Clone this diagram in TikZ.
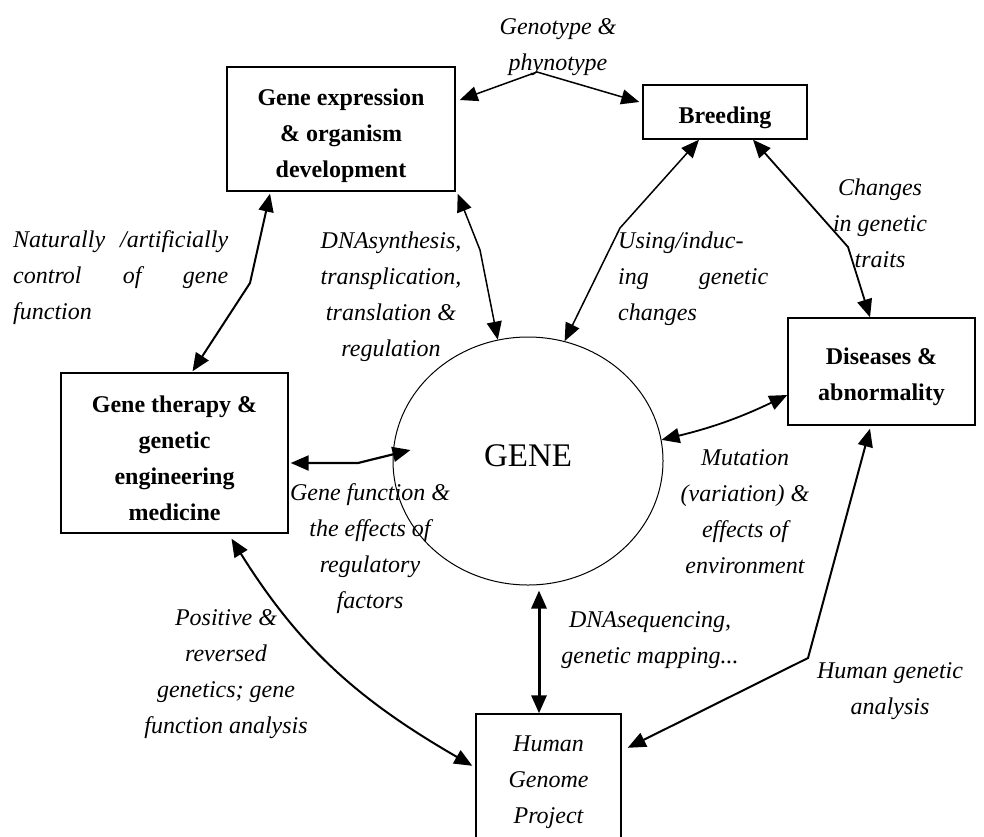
\documentclass[tikz,border=0pt]{standalone}
\usepackage{fontspec}
\setmainfont{Liberation Serif}
\usetikzlibrary{arrows.meta,shapes.geometric}
% rows of a label; the node's base is the first row's baseline
\newcommand\cellrows[2][c]{\begin{tabular}[t]{@{}#1@{}}#2\end{tabular}}
% rows inside a box, moved down by #1 without changing the box size
\newcommand\boxrows[2]{\raisebox{#1}[\height][\depth]{\begin{tabular}{@{}c@{}}#2\end{tabular}}}
\begin{document}
\begin{tikzpicture}[x=1pt,y=-1pt,
  >={Triangle[length=18pt,width=15pt]},
  box/.style={draw, line width=1.4pt, inner sep=0pt,
    font=\fontsize{24}{36}\selectfont\bfseries},
  lab/.style={inner sep=0pt, font=\fontsize{24}{36}\selectfont\itshape},
  conn/.style={<->, line width=#1},
  conn/.default=1.5pt]
\fill[white] (0,0) rectangle (984,836);
\useasboundingbox (0,0) rectangle (984,836);

% boxes and the central ellipse
\node[box, minimum width=228pt, minimum height=124pt] (ge) at (341,129)
  {\boxrows{-5pt}{Gene expression\\ \& organism\\ development}};
\node[box, minimum width=164pt, minimum height=54pt] (br) at (725,112)
  {\boxrows{-4pt}{Breeding}};
\node[box, minimum width=187pt, minimum height=107pt] (dis) at (881.5,371.5)
  {\boxrows{-4pt}{Diseases \&\\ abnormality}};
\node[box, minimum width=227pt, minimum height=160pt] (gt) at (174.5,453)
  {\boxrows{-6pt}{Gene therapy \&\\ genetic\\ engineering\\ medicine}};
\node[box, font=\fontsize{24}{36}\selectfont\itshape,
  minimum width=145pt, minimum height=131.6pt] (hgp) at (548.5,779.8)
  {\boxrows{0pt}{Human\\ Genome\\ Project}};
\node[draw, ellipse, line width=1pt, inner sep=0pt,
  minimum width=270pt, minimum height=248pt,
  font=\fontsize{33}{40}\selectfont] (gene) at (528,461)
  {\raisebox{5pt}[\height][\depth]{GENE}};

% bend points of the connectors
\coordinate (k1) at (537,72);
\coordinate (k2) at (250,283);
\coordinate (k3) at (480,250);
\coordinate (k4) at (358,463);
\coordinate (k5) at (808,658);
\coordinate (k6) at (620,228);
\coordinate (k7) at (848,247);

% connectors
\draw[conn=1.5pt] ([shift={(4pt,29pt)}]ge.east) -- (k1) -- ([shift={(-3pt,10pt)}]br.west);
\draw[conn=2pt] ([shift={(-71pt,-2pt)}]ge.south) -- (k2) -- ([shift={(18pt,1pt)}]gt.north);
\draw[conn=1.5pt] ([shift={(2pt,-2pt)}]ge.south east) -- (k3) -- (gene.104);
\draw[conn=2.2pt] ([shift={(2pt,-10pt)}]gt.east) -- (k4) -- ([shift={(18pt,11pt)}]gene.west);
\draw[conn=2pt] ([shift={(57pt,-5pt)}]gt.south) to[out=-58,in=150] ([shift={(-3pt,14pt)}]hgp.west);
\draw[conn=3pt] ([shift={(11pt,-5pt)}]gene.south) -- ([xshift=-9.5pt]hgp.north);
\draw[conn=2pt] ([shift={(6pt,32pt)}]hgp.east) -- (k5) -- ([shift={(-11.5pt,-3pt)}]dis.south);
\draw[conn=1.8pt] (gene.9) to[bend right=6] ([yshift=-23.5pt]dis.west);
\draw[conn=1.5pt] ([xshift=-26pt]br.south) -- (k6) -- (gene.73);
\draw[conn=1.8pt] ([xshift=28pt]br.south) -- (k7) -- ([xshift=-11.5pt]dis.north);

% connector labels
\node[lab, anchor=base] (l1) at (558,34) {\cellrows{Genotype \&\\ phynotype}};
\node[lab, anchor=base west] (l2) at (13,247)
  {\cellrows[l]{\hbox to 215pt{Naturally\hfill/artificially}\\
   \hbox to 215pt{control\hfill of\hfill gene}\\ function}};
\node[lab, anchor=base] (l3) at (391,248)
  {\cellrows{DNAsynthesis,\\ transplication,\\ translation \&\\ regulation}};
\node[lab, anchor=base west] (l4) at (618,248)
  {\cellrows[l]{Using/induc-\\ \hbox to 150pt{ing\hfill genetic}\\ changes}};
\node[lab, anchor=base] (l5) at (880,195) {\cellrows{Changes\\ in genetic\\ traits}};
\node[lab, anchor=base] (l6) at (370,500)
  {\cellrows{Gene function \&\\ the effects of\\ regulatory\\ factors}};
\node[lab, anchor=base] (l7) at (745,465)
  {\cellrows{Mutation\\ (variation) \&\\ effects of\\ environment}};
\node[lab, anchor=base] (l8) at (226,625)
  {\cellrows{Positive \&\\ reversed\\ genetics; gene\\ function analysis}};
\node[lab, anchor=base] (l9) at (650,627) {\cellrows{DNAsequencing,\\ genetic mapping...}};
\node[lab, anchor=base] (l10) at (890,678) {\cellrows{Human genetic\\ analysis}};
\end{tikzpicture}
\end{document}
